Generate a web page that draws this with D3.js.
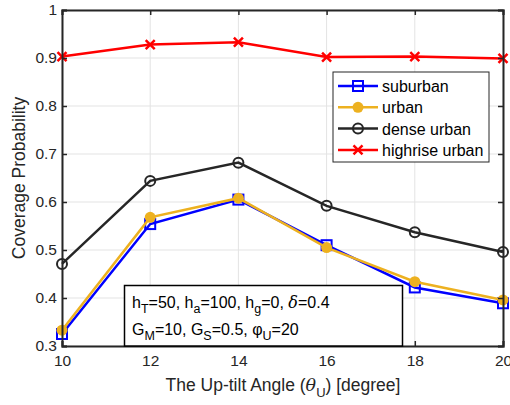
<!DOCTYPE html>
<html lang="en">
<head>
    <meta charset="UTF-8">
    <title>coverage vs up-tilt</title>
    <script src="https://cdn.jsdelivr.net/npm/d3@7"></script>
    <style>
        body { margin: 0; background: #fff; }
        text { font-family: "Liberation Sans", Arial, sans-serif; fill: #262626; }
    </style>
</head>
<body>
    <script>
        // data
        var angles = [10, 12, 14, 16, 18, 20];
        var suburban = [0.325, 0.554, 0.605, 0.510, 0.422, 0.389];
        var urban = [0.333, 0.568, 0.608, 0.505, 0.434, 0.396];
        var denseUrban = [0.471, 0.644, 0.682, 0.592, 0.537, 0.496];
        var highriseUrban = [0.903, 0.928, 0.933, 0.902, 0.903, 0.899];
        var seriesNames = ["suburban", "urban", "dense urban", "highrise urban"];
        var xTicks = [10, 12, 14, 16, 18, 20];
        var yTicks = [0.3, 0.4, 0.5, 0.6, 0.7, 0.8, 0.9, 1];

        var w = 510, h = 405;
        var mLeft = 62, mRight = 503, mTop = 10, mBottom = 346;

        var svg = d3.select("body").append("svg")
            .attr("width", w)
            .attr("height", h);

        var x = d3.scaleLinear().domain([10, 20]).range([mLeft, mRight]);
        var y = d3.scaleLinear().domain([0.3, 1]).range([mBottom, mTop]);

        // grid
        var grid = svg.append("g");
        grid.selectAll(".gx").data(xTicks).enter().append("line")
            .attr("x1", d => x(d)).attr("x2", d => x(d))
            .attr("y1", mTop).attr("y2", mBottom)
            .attr("stroke", "#e3e3e3").attr("stroke-width", 1);
        grid.selectAll(".gy").data(yTicks).enter().append("line")
            .attr("x1", mLeft).attr("x2", mRight)
            .attr("y1", d => y(d)).attr("y2", d => y(d))
            .attr("stroke", "#e3e3e3").attr("stroke-width", 1);

        var series = [
            { name: seriesNames[0], vals: suburban, color: "#0000ff", marker: "square" },
            { name: seriesNames[1], vals: urban, color: "#edb120", marker: "dot" },
            { name: seriesNames[2], vals: denseUrban, color: "#262626", marker: "circle" },
            { name: seriesNames[3], vals: highriseUrban, color: "#ff0000", marker: "cross" }
        ];

        function drawMarker(g, type, cx, cy, color) {
            if (type == "square") {
                g.append("rect").attr("x", cx - 5).attr("y", cy - 5)
                    .attr("width", 10).attr("height", 10)
                    .attr("fill", "none").attr("stroke", color).attr("stroke-width", 2);
            } else if (type == "dot") {
                g.append("circle").attr("cx", cx).attr("cy", cy).attr("r", 5.5)
                    .attr("fill", color);
            } else if (type == "circle") {
                g.append("circle").attr("cx", cx).attr("cy", cy).attr("r", 5)
                    .attr("fill", "none").attr("stroke", color).attr("stroke-width", 2);
            } else {
                g.append("path")
                    .attr("d", "M" + (cx - 4.5) + "," + (cy - 4.5) + "L" + (cx + 4.5) + "," + (cy + 4.5) +
                        "M" + (cx - 4.5) + "," + (cy + 4.5) + "L" + (cx + 4.5) + "," + (cy - 4.5))
                    .attr("stroke", color).attr("stroke-width", 2.5);
            }
        }

        var line = d3.line()
            .x((d, i) => x(angles[i]))
            .y(d => y(d));

        var plot = svg.append("g");
        series.forEach(function (s) {
            var g = plot.append("g");
            g.append("path").datum(s.vals)
                .attr("d", line)
                .attr("fill", "none")
                .attr("stroke", s.color)
                .attr("stroke-width", 2.5);
            s.vals.forEach(function (v, i) {
                drawMarker(g, s.marker, x(angles[i]), y(v), s.color);
            });
        });

        // axes box
        var axes = svg.append("g");
        var xAxis = d3.axisBottom(x).tickValues(xTicks).tickSize(-5).tickPadding(9).tickFormat(d3.format("d"));
        var xAxisTop = d3.axisTop(x).tickValues(xTicks).tickSize(-5).tickFormat("");
        var yAxis = d3.axisLeft(y).tickValues(yTicks).tickSize(-5).tickPadding(5).tickFormat(d => d == 1 ? "1" : d3.format(".1f")(d));
        var yAxisRight = d3.axisRight(y).tickValues(yTicks).tickSize(-5).tickFormat("");

        axes.append("g").attr("transform", "translate(0," + mBottom + ")").call(xAxis);
        axes.append("g").attr("transform", "translate(0," + mTop + ")").call(xAxisTop);
        axes.append("g").attr("transform", "translate(" + mLeft + ",0)").call(yAxis);
        axes.append("g").attr("transform", "translate(" + mRight + ",0)").call(yAxisRight);
        axes.selectAll(".domain").attr("stroke", "#262626").attr("stroke-width", 2);
        axes.selectAll(".tick line").attr("stroke", "#262626").attr("stroke-width", 1.5);
        axes.selectAll(".tick text").attr("font-size", 15.5).attr("fill", "#262626")
            .style("font-family", "'Liberation Sans', Arial, sans-serif");

        // text with subscripts: parts = [[text, isSub, style]]
        function richText(t, parts, subSize, drop) {
            var shift = 0;
            parts.forEach(function (p) {
                var want = p[1] ? drop : 0;
                var ts = t.append("tspan").text(p[0]);
                if (want != shift) { ts.attr("dy", want - shift); shift = want; }
                if (p[1]) ts.attr("font-size", subSize);
                if (p[2] == "it") ts.attr("font-style", "italic").style("font-family", "'DejaVu Serif', serif");
            });
        }

        // axis labels
        var xl = svg.append("text")
            .attr("x", 283).attr("y", 391)
            .attr("text-anchor", "middle")
            .attr("font-size", 17.5);
        richText(xl, [["The Up-tilt Angle (", false], ["θ", false, "it"], ["U", true], [") [degree]", false]], 13, 6);

        svg.append("text")
            .attr("transform", "translate(25," + ((mTop + mBottom) / 2) + ") rotate(-90)")
            .attr("text-anchor", "middle")
            .attr("font-size", 17.5)
            .text("Coverage Probability");

        // legend
        var lg = svg.append("g");
        lg.append("rect").attr("x", 333).attr("y", 72).attr("width", 156).attr("height", 90)
            .attr("fill", "#fff").attr("stroke", "#262626").attr("stroke-width", 1);
        series.forEach(function (s, i) {
            var ly = 86 + i * 21.3;
            lg.append("line").attr("x1", 338).attr("x2", 378).attr("y1", ly).attr("y2", ly)
                .attr("stroke", s.color).attr("stroke-width", 2.5);
            drawMarker(lg, s.marker, 358, ly, s.color);
            lg.append("text").attr("x", 382).attr("y", ly + 6)
                .attr("font-size", 16).style("fill", "#000").text(s.name);
        });

        // parameter box
        var pb = svg.append("g");
        pb.append("rect").attr("x", 124.5).attr("y", 285.5).attr("width", 278).attr("height", 60.5)
            .attr("fill", "#fff").attr("stroke", "#000").attr("stroke-width", 1.5);
        var t1 = pb.append("text").attr("x", 132).attr("y", 308).attr("font-size", 16).style("fill", "#000");
        richText(t1, [["h", false], ["T", true], ["=50, h", false], ["a", true], ["=100, h", false], ["g", true],
            ["=0, ", false], ["δ", false, "it"], ["=0.4", false]], 12.5, 5);
        var t2 = pb.append("text").attr("x", 132).attr("y", 335).attr("font-size", 16).style("fill", "#000");
        richText(t2, [["G", false], ["M", true], ["=10, G", false], ["S", true], ["=0.5, φ", false], ["U", true], ["=20", false]], 12.5, 5);
    </script>
</body>
</html>
